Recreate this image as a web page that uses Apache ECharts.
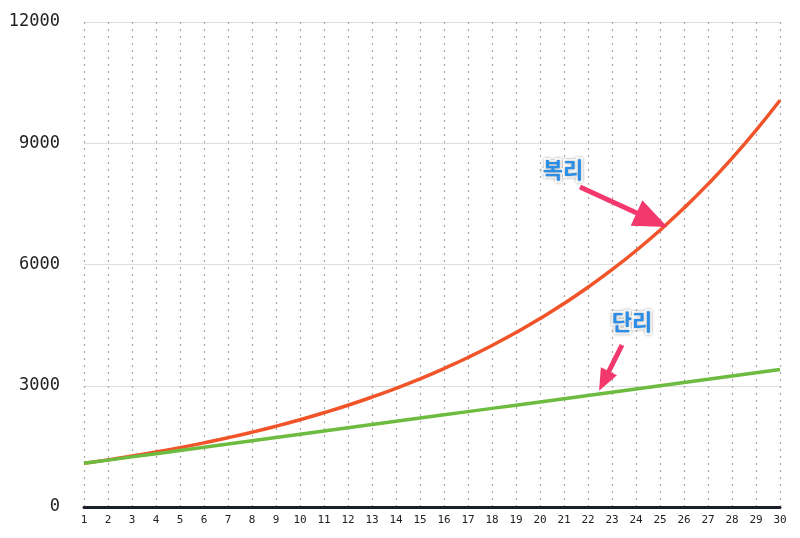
<!DOCTYPE html>
<html><head><meta charset="utf-8">
<script src="https://cdn.jsdelivr.net/npm/echarts@6/dist/echarts.min.js"></script>
<style>html,body{margin:0;padding:0;background:#fff}#c{width:800px;height:538px}</style>
</head><body><div id="c"></div>
<script>
const categories = ['1','2','3','4','5','6','7','8','9','10','11','12','13','14','15','16','17','18','19','20','21','22','23','24','25','26','27','28','29','30'];
const compound = [1080,1166,1260,1360,1469,1587,1714,1851,1999,2159,2332,2518,2720,2937,3172,3426,3700,3996,4316,4661,5034,5437,5871,6341,6848,7396,7988,8627,9317,10063];
const simple = [1080,1160,1240,1320,1400,1480,1560,1640,1720,1800,1880,1960,2040,2120,2200,2280,2360,2440,2520,2600,2680,2760,2840,2920,3000,3080,3160,3240,3320,3400];
const yTicks = [0,3000,6000,9000,12000];
const labelCompound = '복리', labelSimple = '단리';

const chart = echarts.init(document.getElementById('c'));
const arrowStyle = {color:'#f2386c', width:5, type:'solid', opacity:1};
const txtStyle = {fontSize:22, fontWeight:'bold', color:'#2a8ee6', textBorderColor:'#fff', textBorderWidth:4, textShadowColor:'rgba(0,0,0,0.35)', textShadowBlur:3, fontFamily:'Noto Sans CJK KR'};
chart.setOption({
  animation:false,
  grid:{left:84,right:20,top:22,bottom:31},
  xAxis:{type:'category',data:categories,boundaryGap:false,
    axisLine:{lineStyle:{color:'#1a1f2a',width:3}},axisTick:{show:false},
    axisLabel:{color:'#222',fontSize:11,fontFamily:'DejaVu Sans Mono',margin:8},
    splitLine:{show:true,lineStyle:{color:'#aaa',type:[2,5],width:1.2}}},
  yAxis:{type:'value',min:yTicks[0],max:yTicks[yTicks.length-1],interval:3000,
    axisLine:{show:false},axisTick:{show:false},
    axisLabel:{color:'#222',fontSize:17,fontFamily:'DejaVu Sans Mono',margin:24,formatter:v=>String(v)},
    splitLine:{lineStyle:{color:'#ddd',width:1}}},
  series:[
    {type:'line',data:compound,smooth:true,symbol:'none',lineStyle:{color:'#f2542a',width:3.5},z:3,
     markLine:{silent:true,symbol:['none','triangle'],symbolSize:[28,34],lineStyle:arrowStyle,itemStyle:{color:'#f2386c'},label:{show:false},
       data:[[{x:580,y:187},{x:652,y:220}]]},
     markPoint:{symbol:'rect',symbolSize:1,itemStyle:{color:'transparent'},
       label:{show:true,formatter:labelCompound,...txtStyle},
       data:[{x:563,y:170}]}},
    {type:'line',data:simple,symbol:'none',lineStyle:{color:'#6dbb3f',width:3.5},z:4,
     markLine:{silent:true,symbol:['none','triangle'],symbolSize:[18,22],lineStyle:arrowStyle,itemStyle:{color:'#f2386c'},label:{show:false},
       data:[[{x:622,y:345},{x:604,y:381}]]},
     markPoint:{symbol:'rect',symbolSize:1,itemStyle:{color:'transparent'},
       label:{show:true,formatter:labelSimple,...txtStyle},
       data:[{x:632,y:322}]}}
  ]
});
</script></body></html>
